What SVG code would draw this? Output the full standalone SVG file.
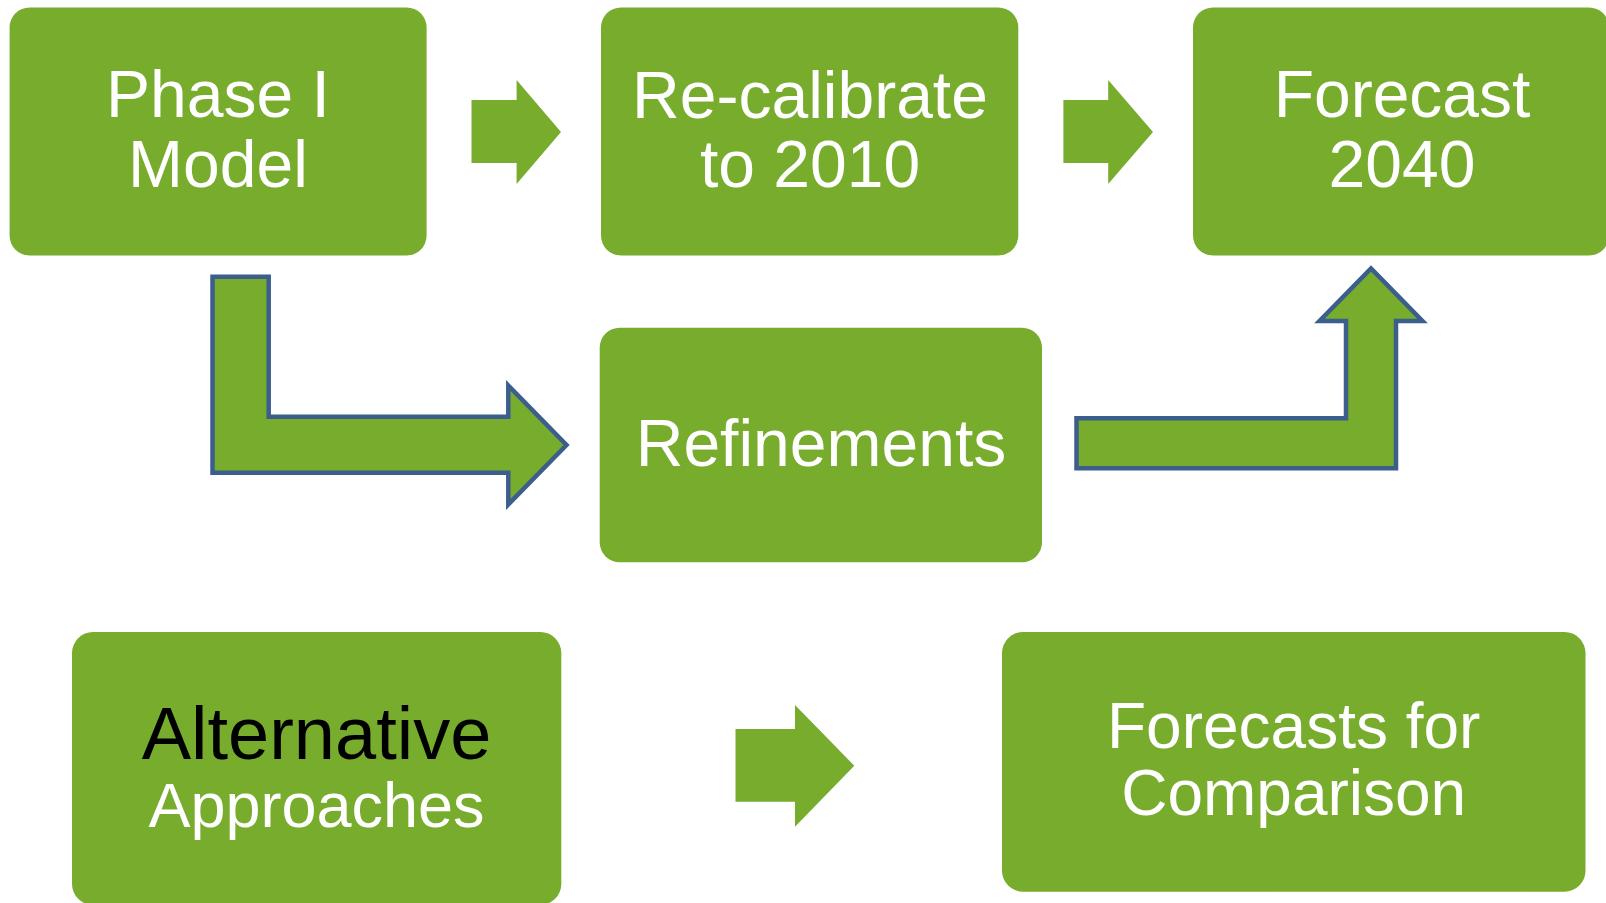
<svg xmlns="http://www.w3.org/2000/svg" width="1606" height="903" viewBox="0 0 1606 903">
<style>
.box{fill:#77AC2D}
.arrow{fill:#77AC2D}
.bent{fill:#77AC2D;stroke:#3B5E8C;stroke-width:4.5;stroke-linejoin:miter}
.t{font-family:"Liberation Sans",Arial,sans-serif;fill:#FFFFFF;text-anchor:middle}
.f66{font-size:66px}
.f64{font-size:64px}
</style>
<rect width="1606" height="903" fill="#FFFFFF"/>
<g id="connectors">
<polygon class="arrow" points="471.5,100 516.6,100 516.6,80 561,132 516.6,184 516.6,163 471.5,163"/>
<polygon class="arrow" points="1063.4,100 1108.2,100 1108.2,80 1153,132 1108.2,184 1108.2,163 1063.4,163"/>
<polygon class="arrow" points="735.5,729 795,729 795,705 854.3,765.7 795,826.7 795,801.7 735.5,801.7"/>
<polygon class="bent" points="212.5,276.7 268.7,276.7 268.7,416.7 508.3,416.7 508.3,385.5 566.5,445 508.3,504.5 508.3,472.7 212.5,472.7"/>
<polygon class="bent" points="1076.5,418.3 1346,418.3 1346,321 1319.5,321 1371,268.5 1422.5,321 1396,321 1396,468.3 1076.5,468.3"/>
</g>
<g id="phase1">
<rect class="box" x="9.6" y="7.5" width="417" height="248" rx="20"/>
<text class="t f66" x="218" y="117">Phase I</text>
<text class="t f66" x="218" y="187">Model</text>
</g>
<g id="recalibrate">
<rect class="box" x="601" y="7.5" width="417.3" height="248" rx="20"/>
<text class="t f66" x="810" y="118.3">Re-calibrate</text>
<text class="t f66" x="810" y="186.7">to 2010</text>
</g>
<g id="forecast2040">
<rect class="box" x="1193" y="7.5" width="416" height="248" rx="20"/>
<text class="t f66" x="1402" y="117.3">Forecast</text>
<text class="t f66" x="1402" y="186.7">2040</text>
</g>
<g id="refinements">
<rect class="box" x="599.7" y="327.7" width="442.3" height="234.6" rx="20"/>
<text class="t f66" x="821" y="465.7">Refinements</text>
</g>
<g id="alternative">
<rect class="box" x="72" y="632" width="489.3" height="273" rx="21"/>
<text class="t" x="316.5" y="759" font-size="74" style="fill:#000000">Alternative</text>
<text class="t" x="316.5" y="827" font-size="63">Approaches</text>
</g>
<g id="forecasts-comparison">
<rect class="box" x="1002" y="632" width="583.5" height="259.7" rx="21"/>
<text class="t f64" x="1293.7" y="748.3">Forecasts for</text>
<text class="t f64" x="1293.7" y="815">Comparison</text>
</g>
</svg>
